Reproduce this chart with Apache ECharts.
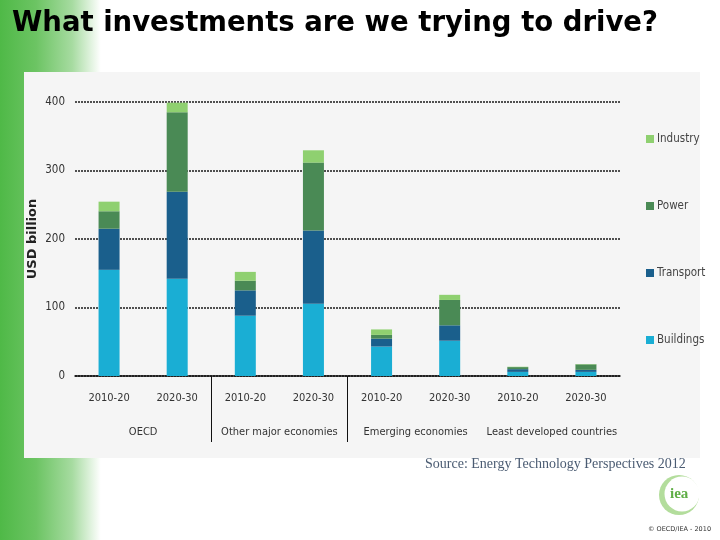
<!DOCTYPE html>
<html>
<head>
<meta charset="utf-8">
<script src="https://cdn.jsdelivr.net/npm/echarts@6/dist/echarts.min.js"></script>
<style>
  html, body { margin: 0; padding: 0; background: #ffffff; }
  #chart { width: 720px; height: 540px; }
</style>
</head>
<body>
<div id="chart"></div>
<script>
const categories = ['2010-20', '2020-30', '2010-20', '2020-30', '2010-20', '2020-30', '2010-20', '2020-30'];
const groups = ['OECD', 'Other major economies', 'Emerging economies', 'Least developed countries'];
const groupBoundaries = [2, 4];
const yTicks = [0, 100, 200, 300, 400];
const buildings = [155, 142, 88, 105.5, 43, 51.5, 6, 6];
const transport = [60, 127, 37, 107, 11.5, 22.5, 4, 3];
const power = [25.5, 116, 14, 99, 5.5, 37, 3, 8];
const industry = [14, 14, 13, 18, 8, 7.5, 0.5, 0.5];

const COLORS = { Buildings: '#1aaed4', Transport: '#1a5f8c', Power: '#4a8a55', Industry: '#8fd070' };
const NARROW = "'DejaVu Sans Condensed', 'Liberation Sans Narrow', sans-serif";

const chart = echarts.init(document.getElementById('chart'), null, { renderer: 'canvas' });

function barSeries(name, data) {
  return {
    name: name, type: 'bar', stack: 'total', data: data, barWidth: 21,
    itemStyle: { color: COLORS[name] },
    emphasis: { disabled: true }
  };
}

const option = {
  animation: false,
  backgroundColor: 'transparent',
  graphic: [
    { type: 'rect', z: -20, silent: true,
      shape: { x: 0, y: 0, width: 720, height: 540 },
      style: { fill: { type: 'linear', x: 0, y: 0, x2: 1, y2: 0,
        colorStops: [ { offset: 0, color: '#4fb947' }, { offset: 0.05, color: '#6cc463' },
                      { offset: 0.1, color: '#a6dba0' }, { offset: 0.14, color: '#ffffff' }, { offset: 1, color: '#ffffff' } ] } } },
    { type: 'rect', z: -19, silent: true,
      shape: { x: 24, y: 72, width: 676, height: 386 },
      style: { fill: '#f5f5f5' } },
    { type: 'circle', z: -10, silent: true, shape: { cx: 679, cy: 495, r: 20 }, style: { fill: '#b3dd9c' } },
    { type: 'circle', z: -9, silent: true, shape: { cx: 682, cy: 494, r: 17.5 }, style: { fill: '#ffffff' } },
    { type: 'text', z: -8, silent: true, left: 670, top: 487,
      style: { text: 'iea', fill: '#5fae46', font: 'bold 15px "Liberation Serif", serif' } },
    { type: 'text', z: -8, silent: true, left: 648, top: 526,
      style: { text: '\u00a9 OECD/IEA - 2010', fill: '#333333', font: '6.5px "DejaVu Sans", sans-serif' } }
  ],
  title: [
    { text: 'What investments are we trying to drive?', left: 7, top: 5,
      textStyle: { fontFamily: "'DejaVu Sans', sans-serif", fontWeight: 'bold', fontSize: 27.5, color: '#000000' } },
    { text: 'Source: Energy Technology Perspectives 2012', left: 420, top: 452,
      textStyle: { fontFamily: "'Liberation Serif', serif", fontWeight: 'normal', fontSize: 14, color: '#4a5b72' } }
  ],
  legend: {
    orient: 'vertical', left: 641, top: 128,
    data: ['Industry', 'Power', 'Transport', 'Buildings'],
    icon: 'rect', itemWidth: 8, itemHeight: 8, itemGap: 55,
    textStyle: { fontFamily: NARROW, fontSize: 11.5, color: '#444444', padding: [0, 0, 0, -2] },
    selectedMode: false
  },
  grid: { left: 75, right: 100, top: 102, bottom: 164, containLabel: false },
  xAxis: [
    { type: 'category', data: categories, position: 'bottom',
      axisLine: { show: true, lineStyle: { color: '#111111', width: 1.5 } },
      axisTick: { show: false },
      axisLabel: { margin: 17, interval: 0, fontFamily: NARROW, fontSize: 11, color: '#333333' } },
    { type: 'category', data: groups, position: 'bottom', gridIndex: 0,
      axisLine: { show: false }, axisTick: { show: false },
      axisLabel: { margin: 51, interval: 0, fontFamily: NARROW, fontSize: 11, color: '#333333' } },
    { type: 'value', min: 0, max: categories.length, position: 'bottom', gridIndex: 0,
      axisLine: { show: false }, axisLabel: { show: false }, splitLine: { show: false },
      axisTick: { show: true, customValues: groupBoundaries, length: 66, lineStyle: { color: '#111111', width: 1 } } }
  ],
  yAxis: {
    type: 'value', min: yTicks[0], max: yTicks[yTicks.length - 1], interval: 100,
    name: 'USD billion', nameLocation: 'middle', nameGap: 36, nameMoveOverlap: false,
    nameTextStyle: { fontFamily: "'DejaVu Sans', sans-serif", fontWeight: 'bold', fontSize: 13, color: '#222222' },
    axisLine: { show: false }, axisTick: { show: false },
    axisLabel: { margin: 10, fontFamily: NARROW, fontSize: 11.5, color: '#333333' },
    splitLine: { show: true, lineStyle: { color: '#1a1a1a', type: [2, 1], width: 1.5 } }
  },
  series: [
    barSeries('Buildings', buildings),
    barSeries('Transport', transport),
    barSeries('Power', power),
    barSeries('Industry', industry)
  ]
};
chart.setOption(option);
</script>
</body>
</html>
